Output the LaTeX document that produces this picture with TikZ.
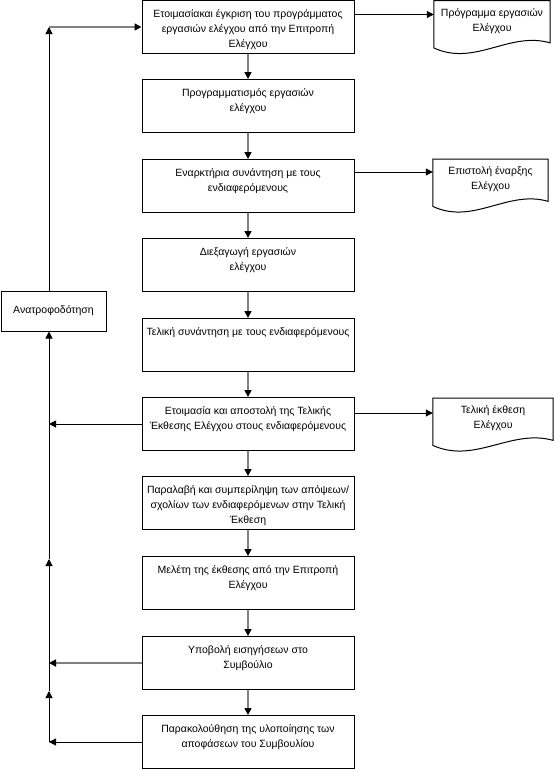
\documentclass[tikz,border=0pt]{standalone}
\usepackage{fontspec}
\setmainfont{Liberation Sans}
\usetikzlibrary{arrows.meta,calc}
\definecolor{flowGray}{RGB}{128,128,128}
\newcommand{\boxtext}[1]{\parbox[c][53pt][t]{210pt}{\centering\vspace*{6pt}\strut#1}}
\newcommand{\doctext}[1]{\parbox[c][42pt][t]{114pt}{\centering\vspace*{5pt}\strut#1}}
\tikzset{
  stepbox/.style={draw,line width=1pt,inner sep=0pt,minimum width=212pt,minimum height=53pt,font=\fontsize{10.5}{15}\selectfont},
  docbox/.style={inner sep=0pt,minimum height=42pt,anchor=north,font=\fontsize{10.5}{15}\selectfont},
  fbbox/.style={draw,line width=1pt,minimum width=105pt,minimum height=40pt,font=\fontsize{10.5}{15}\selectfont},
  flowarrow/.style={flowGray,line width=1.6pt,-{Triangle[length=7pt,width=7pt,black]}},
  thinarrow/.style={black,line width=1pt,-{Triangle[length=7pt,width=7pt]}},
  thinline/.style={black,line width=1pt}
}
\begin{document}
\begin{tikzpicture}[x=1pt,y=-1pt]
\useasboundingbox (0,0) rectangle (554,769);
% main column
\node[stepbox] (box1) at (248,27) {\boxtext{Ετοιμασίακαι έγκριση του προγράμματος\\ εργασιών ελέγχου από την Επιτροπή\\ Ελέγχου}};
\node[stepbox] (box2) at (248,106) {\boxtext{Προγραμματισμός εργασιών\\ ελέγχου}};
\node[stepbox] (box3) at (248,186) {\boxtext{Εναρκτήρια συνάντηση με τους\\ ενδιαφερόμενους}};
\node[stepbox] (box4) at (248,265) {\boxtext{Διεξαγωγή εργασιών\\ ελέγχου}};
\node[stepbox] (box5) at (248,345) {\boxtext{Τελική συνάντηση με τους ενδιαφερόμενους}};
\node[stepbox] (box6) at (248,424) {\boxtext{Ετοιμασία και αποστολή της Τελικής\\ Έκθεσης Ελέγχου στους ενδιαφερόμενους}};
\node[stepbox] (box7) at (248,503) {\boxtext{Παραλαβή και συμπερίληψη των απόψεων/\\ σχολίων των ενδιαφερόμενων στην Τελική\\ Έκθεση}};
\node[stepbox] (box8) at (248,583) {\boxtext{Μελέτη της έκθεσης από την Επιτροπή\\ Ελέγχου}};
\node[stepbox] (box9) at (248,663) {\boxtext{Υποβολή εισηγήσεων στο\\ Συμβούλιο}};
\node[stepbox] (box10) at (248,742) {\boxtext{Παρακολούθηση της υλοποίησης των\\ αποφάσεων του Συμβουλίου}};
\draw[flowarrow] (box1)--(box2);\draw[flowarrow] (box2)--(box3);\draw[flowarrow] (box3)--(box4);
\draw[flowarrow] (box4)--(box5);\draw[flowarrow] (box5)--(box6);\draw[flowarrow] (box6)--(box7);
\draw[flowarrow] (box7)--(box8);\draw[flowarrow] (box8)--(box9);\draw[flowarrow] (box9)--(box10);
% documents on the right
\node[docbox,minimum width=116pt] (doc1) at (492,0.5) {\doctext{Πρόγραμμα εργασιών\\ Ελέγχου}};
\node[docbox,minimum width=115pt] (doc2) at (490.5,159) {\doctext{Επιστολή έναρξης\\ Ελέγχου}};
\node[docbox,minimum width=120pt] (doc3) at (493,398) {\doctext{Τελική έκθεση\\ Ελέγχου}};
\draw[thinline] ($(doc1.south west)+(0,5)$) -- (doc1.north west) -- (doc1.north east) -- (doc1.south east) .. controls ($(doc1.south west)!0.65!(doc1.south east)+(0,-12)$) and ($(doc1.south west)!0.35!(doc1.south east)+(0,24)$) .. cycle;
\draw[thinline] ($(doc2.south west)+(0,5)$) -- (doc2.north west) -- (doc2.north east) -- (doc2.south east) .. controls ($(doc2.south west)!0.65!(doc2.south east)+(0,-12)$) and ($(doc2.south west)!0.35!(doc2.south east)+(0,24)$) .. cycle;
\draw[thinline] ($(doc3.south west)+(0,5)$) -- (doc3.north west) -- (doc3.north east) -- (doc3.south east) .. controls ($(doc3.south west)!0.65!(doc3.south east)+(0,-12)$) and ($(doc3.south west)!0.35!(doc3.south east)+(0,24)$) .. cycle;
\coordinate (in1) at ([yshift=-14pt]doc1.north west);
\coordinate (in2) at ([yshift=-13pt]doc2.north west);
\coordinate (in3) at ([yshift=-15pt]doc3.north west);
\draw[thinarrow] (box1.east |- in1)--(in1);\draw[thinarrow] (box3.east |- in2)--(in2);\draw[thinarrow] (box6.east |- in3)--(in3);
% feedback loop
\node[fbbox] (fb) at (53.5,311) {Ανατροφοδότηση};
\coordinate (top) at (49,27);
\coordinate (k1) at (49,691);
\coordinate (k2) at (49,559);
\draw[thinarrow] (fb.north -| top)--(top);\draw[flowarrow] (top)--(box1.west);
\draw[thinarrow] (box6.west)--(box6.west -| top);\draw[flowarrow] (box9.west)--(box9.west -| top);\draw[thinarrow] (box10.west)--(box10.west -| top);
\draw[thinarrow] (box10.west -| top)--(k1);\draw[thinarrow] (k1)--(k2);\draw[thinarrow] (k2)--(fb.south -| top);
\end{tikzpicture}
\end{document}
